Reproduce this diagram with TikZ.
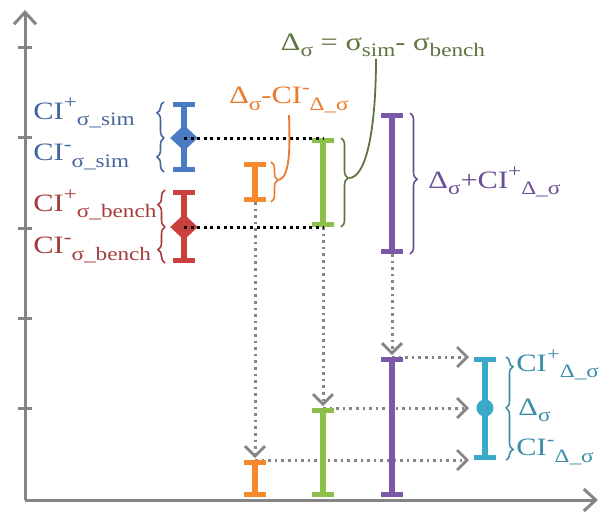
\documentclass[tikz,border=0pt]{standalone}
\usepackage{fontspec}
\setmainfont{Liberation Serif}[FakeStretch=1.22]
\usetikzlibrary{shapes.geometric, arrows.meta, decorations.pathreplacing}

\definecolor{axisgray}{HTML}{858585}
\definecolor{simblue}{HTML}{4A7CC6}
\definecolor{simtext}{HTML}{46659E}
\definecolor{benred}{HTML}{C9403F}
\definecolor{bentext}{HTML}{A63B3B}
\definecolor{orbar}{HTML}{F5892B}
\definecolor{ortext}{HTML}{EB7A2C}
\definecolor{grbar}{HTML}{8DC04A}
\definecolor{grtext}{HTML}{5E7540}
\definecolor{pubar}{HTML}{7B58A8}
\definecolor{putext}{HTML}{6A4E94}
\definecolor{cybar}{HTML}{3BA9C9}
\definecolor{cytext}{HTML}{3A8EAA}

\newcommand{\lo}[1]{\raisebox{-0.55ex}{\fontsize{9.5}{10}\selectfont #1}}
\newcommand{\hi}[1]{\raisebox{0.9ex}{\fontsize{9.5}{10}\selectfont #1}}
\newcommand{\ci}[2]{CI\hi{#1}\lo{#2}}

\begin{document}
\begin{tikzpicture}[x=0.5pt, y=-0.5pt,
    errbar/.style={line width=3pt, {Bar[width=11pt,line width=2.5pt]}-{Bar[width=11pt,line width=2.5pt]}},
    axis/.style={draw=axisgray, line width=1.5pt, -{Straight Barb[length=6pt,width=11pt,line width=1.5pt]}},
    brc/.style={decorate, decoration={brace, amplitude=3.5pt, aspect=#1}, line width=0.8pt},
    brc/.default=0.5,
    blackdots/.style={line width=1.5pt, dash pattern=on 1.5pt off 1.8pt},
    gdots/.style={draw=axisgray, line width=1.5pt, dash pattern=on 1.3pt off 2pt, -{Straight Barb[length=5pt,width=10pt,line width=1.4pt]}},
    lbl/.style={font=\fontsize{12.5}{14}\selectfont, inner sep=1pt}
]
\useasboundingbox (0,0) rectangle (601,516);

% Axes
\coordinate (O) at (25,500);
\coordinate (ytop) at (25,10);
\coordinate (xend) at (598,500);
\draw[axis] (O) -- (ytop);
\draw[axis] (O) -- (xend);
\foreach \t in {47,137,228,318,408}
    \draw[axisgray, line width=1.5pt] (18,\t) -- (32,\t);

% Bar ends
\coordinate (simT) at (184,102);
\coordinate (simB) at (184,172);
\coordinate (benT) at (184,190);
\coordinate (benB) at (184,263);
\coordinate (orT) at (255,162);
\coordinate (orB) at (255,202);
\coordinate (grT) at (323,138);
\coordinate (grB) at (323,227);
\coordinate (puT) at (392,113);
\coordinate (puB) at (392,254);
\coordinate (orL) at (255,460);
\coordinate (orO) at (255,497);
\coordinate (grL) at (323,408);
\coordinate (grO) at (323,497);
\coordinate (puL) at (392,357);
\coordinate (puO) at (392,497);
\coordinate (cyT) at (485,357);
\coordinate (cyB) at (485,460);

% Dotted connections
\draw[gdots, shorten >=1pt] (orB) -- (orL);
\draw[gdots, shorten >=1pt] (grB) -- (grL);
\draw[gdots, shorten >=1pt] (puB) -- (puL);
\draw[gdots, shorten >=8pt] (orL) -- (cyB);
\draw[gdots, shorten >=8pt] (grL) -- (cyB |- grL);
\draw[gdots, shorten >=8pt] (puL) -- (cyT);

% Error bars
\draw[errbar, simblue] (simT) -- (simB);
\draw[errbar, benred] (benT) -- (benB);
\draw[errbar, orbar] (orT) -- (orB);
\draw[errbar, grbar] (grT) -- (grB);
\draw[errbar, pubar] (puT) -- (puB);
\draw[errbar, orbar] (orL) -- (orO);
\draw[errbar, grbar] (grL) -- (grO);
\draw[errbar, pubar] (puL) -- (puO);
\draw[errbar, cybar] (cyT) -- (cyB);
\node[diamond, fill=simblue, minimum width=14pt, minimum height=13pt, inner sep=0pt] (simD) at (184,138) {};
\node[diamond, fill=benred, minimum width=14pt, minimum height=13pt, inner sep=0pt] (benD) at (184,227) {};
\node[circle, fill=cybar, minimum size=8.5pt, inner sep=0pt] (cyD) at (485,408) {};

\draw[blackdots] (simD.center) -- (grT);
\draw[blackdots] (benD.center) -- (grB);

% Braces
\draw[brc=0.7, simtext] (164,138) -- (164,102);
\draw[brc=0.44, simtext] (164,172) -- (164,138);
\draw[brc=0.6, bentext] (165,227) -- (165,190);
\draw[brc=0.37, bentext] (165,263) -- (165,227);
\draw[brc=0.45, ortext] (271,162) -- (271,202);
\draw[brc=0.45, grtext] (341,138) -- (341,227);
\draw[brc=0.47, putext] (410,113) -- (410,254);
\draw[brc=0.19, cytext] (506,357) -- (506,408);
\draw[brc=0.8, cytext] (506,408) -- (506,460);

% Labels
\node[lbl, text=simtext, anchor=west] (simP) at (31,113) {\ci{+}{σ\_sim}};
\node[lbl, text=simtext, anchor=west] (simM) at (31,157) {\ci{-}{σ\_sim}};
\node[lbl, text=bentext, anchor=west] (benP) at (31,205) {\ci{+}{σ\_bench}};
\node[lbl, text=bentext, anchor=west] (benM) at (31,250) {\ci{-}{σ\_bench}};
\node[lbl, text=ortext] (orLbl) at (289,100) {Δ\lo{σ}-\ci{-}{Δ\_σ}};
\node[lbl, text=grtext] (grLbl) at (383,45) {Δ\lo{σ} = σ\lo{sim}- σ\lo{bench}};
\node[lbl, text=putext, anchor=west] (puLbl) at (426,182) {Δ\lo{σ}+\ci{+}{Δ\_σ}};
\node[lbl, text=cytext, anchor=west] (cyP) at (514,365) {\ci{+}{Δ\_σ}};
\node[lbl, text=cytext, anchor=west] (cyM) at (516,410) {Δ\lo{σ}};
\node[lbl, text=cytext, anchor=west] (cyN) at (514,452) {\ci{-}{Δ\_σ}};

% Callout lines
\coordinate (orTip) at (279,180);
\coordinate (grTip) at (349,178);
\draw[ortext, line width=0.9pt] (orTip) .. controls (290,176) and (290,150) .. (orLbl.south);
\draw[grtext, line width=0.9pt] (grTip) .. controls (366,178) and (376,130) .. ([xshift=-3.5pt]grLbl.south);
\end{tikzpicture}
\end{document}
